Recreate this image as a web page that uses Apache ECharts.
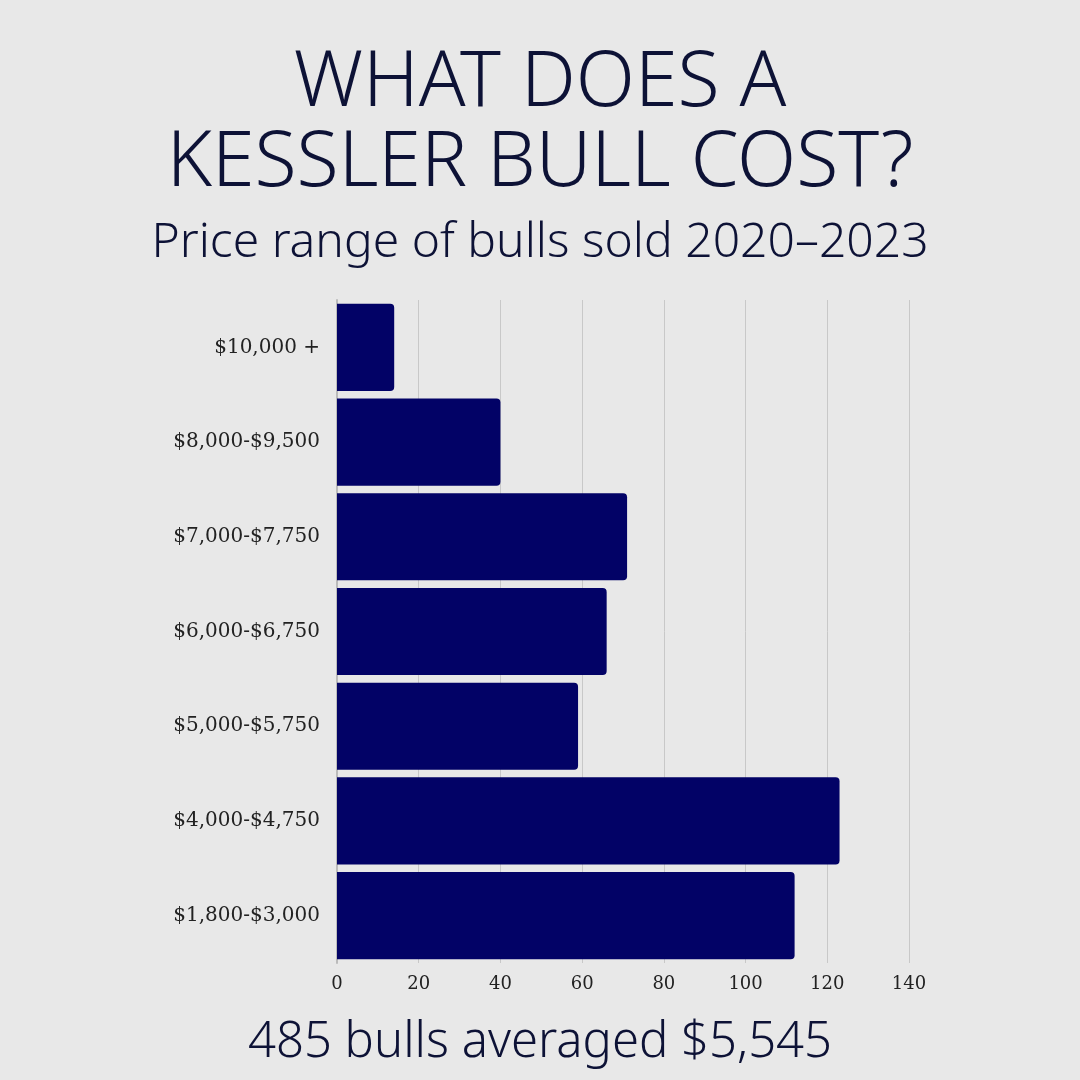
<!DOCTYPE html>
<html>
<head>
<meta charset="utf-8">
<script src="https://cdn.jsdelivr.net/npm/echarts@6/dist/echarts.min.js"></script>
<style>
  html, body { margin: 0; padding: 0; background: #e8e8e8; }
  #chart { width: 1080px; height: 1080px; }
</style>
</head>
<body>
<div id="chart"></div>
<script>
// price ranges, top to bottom
const categories = ['$10,000 +', '$8,000-$9,500', '$7,000-$7,750', '$6,000-$6,750',
  '$5,000-$5,750', '$4,000-$4,750', '$1,800-$3,000'];
const bullCounts = [14, 40, 71, 66, 59, 123, 112];
const xTicks = [0, 20, 40, 60, 80, 100, 120, 140];

const navy = '#0d1236';
const displayFont = '"Noto Sans", sans-serif';

const chart = echarts.init(document.getElementById('chart'));

chart.setOption({
  backgroundColor: '#e8e8e8',
  title: [
    {
      text: 'WHAT DOES A\nKESSLER BULL COST?',
      left: 'center',
      top: 39,
      textStyle: { color: navy, fontFamily: displayFont, fontWeight: 300, fontSize: 77, lineHeight: 80 }
    },
    {
      text: 'Price range of bulls sold 2020–2023',
      left: 'center',
      top: 214,
      textStyle: { color: navy, fontFamily: displayFont, fontWeight: 300, fontSize: 48 }
    },
    {
      text: '485 bulls averaged $5,545',
      left: 'center',
      top: 1014,
      textStyle: { color: navy, fontFamily: displayFont, fontWeight: 300, fontSize: 49 }
    }
  ],
  grid: { left: 337, right: 171, top: 300, bottom: 117 },
  xAxis: {
    type: 'value',
    min: xTicks[0],
    max: xTicks[xTicks.length - 1],
    interval: 20,
    axisLine: { show: false },
    axisTick: { show: false },
    splitLine: { lineStyle: { color: '#c8c8c8', width: 1 } },
    axisLabel: { color: '#222', fontFamily: '"DejaVu Serif", serif', fontSize: 18, margin: 12 }
  },
  yAxis: {
    type: 'category',
    data: categories,
    inverse: true,
    axisLine: { show: true, lineStyle: { color: '#bbb', width: 2 } },
    axisTick: { show: false },
    axisLabel: { color: '#222', fontFamily: '"DejaVu Serif", serif', fontSize: 20, margin: 17 }
  },
  series: [{
    type: 'bar',
    data: bullCounts,
    barCategoryGap: '8%',
    itemStyle: { color: '#020266', borderRadius: [0, 4, 4, 0] }
  }]
});
</script>
</body>
</html>
